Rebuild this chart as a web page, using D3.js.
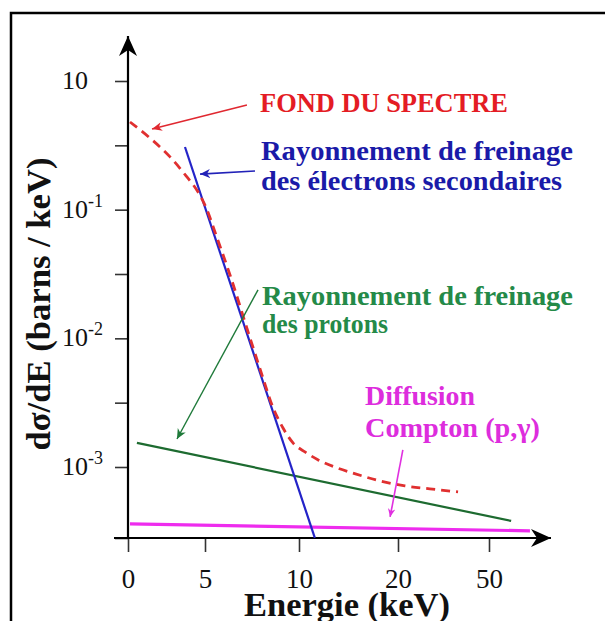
<!DOCTYPE html>
<html>
<head>
<meta charset="utf-8">
<script src="https://cdn.jsdelivr.net/npm/d3@7"></script>
<style>
  html, body { margin: 0; padding: 0; background: #fff; }
  svg { display: block; }
  text { font-family: "Liberation Serif", "Times New Roman", serif; }
</style>
</head>
<body>
<svg id="chart" width="605" height="621" font-family="Liberation Serif, Times New Roman, serif"></svg>
<script>
// ---------------- data ----------------
const xTickValues = [0, 5, 10, 20, 50];
const xTickLabels = ["0", "5", "10", "20", "50"];

const yMajorTicks = [1, 0.1, 0.01, 0.001];
const yTickBase = ["10", "10", "10", "10"];
const yTickExp = ["", "-1", "-2", "-3"];
const yMinorTicks = [Math.pow(10, -0.5), Math.pow(10, -1.5), Math.pow(10, -2.5)];

// Fond du spectre (red dashed)
const fondE = [0.13, 1.43, 2.73, 3.77, 4.55, 5.11, 5.53, 6.33, 7.39, 8.03, 8.56, 9.15, 9.68, 10.6, 11.9, 13.6, 15.7, 18.2, 22.3, 30.5, 39.8];
const fondS = [0.48, 0.36, 0.257, 0.183, 0.137, 0.0995, 0.067, 0.0311, 0.0101, 0.0052, 0.00304, 0.00201, 0.00154, 0.00131, 0.00114, 0.00100, 0.000884, 0.000779, 0.000713, 0.000676, 0.000641];

// Rayonnement de freinage des électrons secondaires (blue)
const electronE = [3.70, 11.6];
const electronS = [0.307, 0.000281];

// Rayonnement de freinage des protons (green)
const protonE = [0.58, 57.3];
const protonS = [0.00154, 0.000381];

// Diffusion Compton (magenta)
const comptonE = [0.13, 63.5];
const comptonS = [0.000361, 0.000319];

// annotation arrows: [fromE, fromS, toE, toS]
const arrowRed = [7.23, 0.651, 1.56, 0.424];
const arrowBlue = [7.66, 0.200, 4.68, 0.189];
const arrowGreen = [7.82, 0.0238, 3.18, 0.00165];
const arrowMagenta = [21.6, 0.00136, 19.2, 0.000409];

// ---------------- scales ----------------
const FONT = "Liberation Serif, Times New Roman, serif";
const svg = d3.select("#chart");
const x = d3.scaleLinear().domain(xTickValues).range([128, 205, 299, 398, 489]);
const y = d3.scaleLog().domain([1, 0.001]).range([81, 467]);
const yBottom = y.invert(538);
const yTop = y.invert(36);
const xEnd = x.invert(551);

// frame
svg.append("path").attr("d", "M11,621 L11,13 L605,13")
  .attr("fill", "none").attr("stroke", "#000").attr("stroke-width", 2.5);

// arrowhead markers
const defs = svg.append("defs");
function marker(id, color, w, h) {
  defs.append("marker").attr("id", id)
    .attr("viewBox", "-10 -5 12 10").attr("refX", 0).attr("refY", 0)
    .attr("markerWidth", w).attr("markerHeight", h)
    .attr("markerUnits", "userSpaceOnUse").attr("orient", "auto")
    .append("path").attr("d", "M0,0 L-10,-4.5 L-7,0 L-10,4.5 Z").attr("fill", color);
}
marker("axisArrow", "#000", 28, 20);
marker("aRed", "#e02830", 12, 10);
marker("aBlue", "#2222b8", 12, 10);
marker("aGreen", "#1f7a3a", 12, 10);
marker("aMag", "#e030e0", 10, 9);

// ---------------- axes ----------------
const yAxis = d3.axisLeft(y)
  .tickValues(yMajorTicks.concat(yMinorTicks, [yBottom]))
  .tickSize(13).tickFormat("");
const gy = svg.append("g").attr("transform", "translate(128,0)").call(yAxis);
gy.select(".domain").remove();
gy.selectAll(".tick line").attr("stroke", "#333").attr("stroke-width", 1.6);

const xAxis = d3.axisBottom(x).tickValues(xTickValues).tickSize(14).tickPadding(17)
  .tickFormat((d, i) => xTickLabels[i]);
const gx = svg.append("g").attr("transform", "translate(0,538)").call(xAxis);
gx.attr("font-family", FONT);
gx.select(".domain").remove();
gx.selectAll(".tick line").attr("stroke", "#333").attr("stroke-width", 1.6);
gx.selectAll(".tick text").attr("font-size", 27).attr("fill", "#111")
  .attr("font-family", FONT);

// axis lines with arrows
svg.append("line").attr("x1", 128).attr("y1", 538).attr("x2", 128).attr("y2", y(yTop))
  .attr("stroke", "#000").attr("stroke-width", 2.2).attr("marker-end", "url(#axisArrow)");
svg.append("line").attr("x1", 114).attr("y1", 538).attr("x2", x(xEnd)).attr("y2", 538)
  .attr("stroke", "#000").attr("stroke-width", 2.2).attr("marker-end", "url(#axisArrow)");

// y tick labels
yMajorTicks.forEach((v, i) => {
  const t = svg.append("text").attr("x", 62).attr("y", y(v) + 8)
    .attr("font-family", FONT).attr("font-size", 26).attr("fill", "#111");
  t.append("tspan").text(yTickBase[i]);
  if (yTickExp[i]) {
    t.append("tspan").attr("dy", -11).attr("font-size", 18).text(yTickExp[i]);
  }
});

// axis titles
svg.append("text").attr("x", 347).attr("y", 616).attr("text-anchor", "middle")
  .attr("font-family", FONT)
  .attr("font-size", 34).attr("font-weight", "bold").attr("fill", "#111")
  .attr("textLength", 206).attr("lengthAdjust", "spacingAndGlyphs")
  .text("Energie (keV)");
svg.append("text").attr("transform", "translate(50,304) rotate(-90)")
  .attr("font-family", FONT)
  .attr("text-anchor", "middle").attr("font-size", 34).attr("font-weight", "bold")
  .attr("textLength", 293).attr("lengthAdjust", "spacingAndGlyphs")
  .attr("fill", "#111").text("dσ/dE (barns / keV)");

// ---------------- curves ----------------
const line = d3.line().x(d => x(d[0])).y(d => y(d[1]));
const zip = (a, b) => a.map((v, i) => [v, b[i]]);

svg.append("path").datum(zip(comptonE, comptonS)).attr("d", line)
  .attr("fill", "none").attr("stroke", "#ee2cee").attr("stroke-width", 3.2);
svg.append("path").datum(zip(protonE, protonS)).attr("d", line)
  .attr("fill", "none").attr("stroke", "#1d6b30").attr("stroke-width", 2.2);
svg.append("path").datum(zip(electronE, electronS)).attr("d", line)
  .attr("fill", "none").attr("stroke", "#2424c8").attr("stroke-width", 2.2);
svg.append("path").datum(zip(fondE, fondS))
  .attr("d", d3.line().x(d => x(d[0])).y(d => y(d[1])).curve(d3.curveMonotoneX))
  .attr("fill", "none").attr("stroke", "#e03030").attr("stroke-width", 2.8)
  .attr("stroke-dasharray", "9,6");

// ---------------- annotations ----------------
function arrow(a, color, mk, w) {
  svg.append("line").attr("x1", x(a[0])).attr("y1", y(a[1]))
    .attr("x2", x(a[2])).attr("y2", y(a[3]))
    .attr("stroke", color).attr("stroke-width", w).attr("marker-end", `url(#${mk})`);
}
arrow(arrowRed, "#e02830", "aRed", 1.6);
arrow(arrowBlue, "#2222b8", "aBlue", 1.6);
arrow(arrowGreen, "#1f7a3a", "aGreen", 1.4);
arrow(arrowMagenta, "#e030e0", "aMag", 1.6);

function label(lines, widths, x0, y0, dy, color) {
  lines.forEach((s, i) => {
    svg.append("text").attr("x", x0).attr("y", y0 + i * dy)
      .attr("font-family", FONT)
      .attr("font-size", 27).attr("font-weight", "bold").attr("fill", color)
      .attr("textLength", widths[i]).attr("lengthAdjust", "spacingAndGlyphs")
      .text(s);
  });
}
label(["FOND DU SPECTRE"], [248], 260, 112, 0, "#e41c24");
label(["Rayonnement de freinage", "des électrons secondaires"], [312, 301], 261, 160, 30, "#1a1aa8");
label(["Rayonnement de freinage", "des protons"], [311, 126], 262, 305, 28, "#248a48");
label(["Diffusion", "Compton (p,γ)"], [110, 175], 365, 405, 32, "#dd2ddd");
</script>
</body>
</html>
